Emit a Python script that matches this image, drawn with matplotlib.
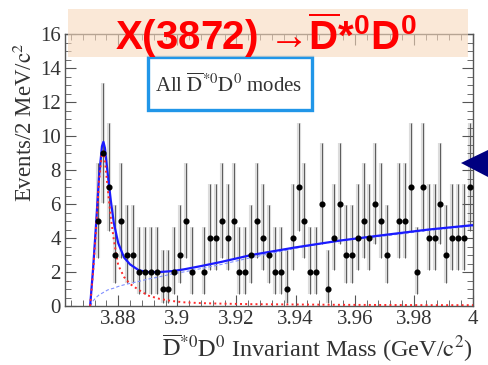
import numpy as np
import matplotlib
matplotlib.use("Agg")
import matplotlib.pyplot as plt
from matplotlib.patches import Rectangle, Polygon
from matplotlib.ticker import MultipleLocator

plt.rcParams['font.family'] = ['Liberation Serif', 'DejaVu Serif']
plt.rcParams['mathtext.fontset'] = 'custom'
plt.rcParams['mathtext.rm'] = 'Liberation Sans:bold'
plt.rcParams['mathtext.it'] = 'Liberation Sans:bold'
plt.rcParams['mathtext.bf'] = 'Liberation Sans:bold'

# 2 MeV bins, centres from 3.863 to 3.999 GeV
bin_centers = np.arange(69) * 0.002 + 3.863
counts = [0, 0, 0, 0, 0, 5, 9, 7, 3, 5, 3, 3, 2, 2, 2, 2, 1, 1, 2, 3,
          5, 2, 0, 2, 4, 4, 5, 4, 5, 2, 2, 3, 5, 4, 3, 2, 2, 1, 4, 7,
          5, 2, 2, 6, 1, 4, 6, 3, 3, 4, 5, 4, 6, 5, 3, 0, 5, 5, 7, 2,
          7, 4, 4, 6, 3, 4, 4, 4, 7]

# poisson 68% interval (low, high) for each count
poisson_band = {1: (0.17, 3.32), 2: (0.71, 4.66), 3: (1.37, 5.94),
                4: (2.09, 7.18), 5: (2.85, 8.40), 6: (3.63, 9.60),
                7: (4.42, 10.78), 9: (6.06, 13.12)}

# fit curves
fit_x = [3.8705, 3.8715, 3.8725, 3.8735, 3.8745, 3.875, 3.8755, 3.8765,
         3.8775, 3.8785, 3.880, 3.882, 3.884, 3.887, 3.890, 3.894, 3.898,
         3.902, 3.908, 3.915, 3.925, 3.94, 3.955, 3.97, 3.985, 4.0]
fit_total = [0, 2.2, 4.8, 7.6, 9.4, 9.66, 9.3, 7.7, 6.2, 4.9, 3.7, 2.85,
             2.45, 2.1, 2.0, 2.0, 2.05, 2.15, 2.35, 2.6, 3.0, 3.45, 3.85,
             4.18, 4.5, 4.76]
fit_signal = [0, 2.0, 4.5, 7.3, 9.0, 9.1, 8.6, 6.8, 5.2, 3.9, 2.4, 1.7,
              1.3, 0.94, 0.62, 0.42, 0.3, 0.22, 0.17, 0.14, 0.11, 0.09,
              0.07, 0.06, 0.05, 0.05]
fit_bkg = [0, 0.3, 0.5, 0.65, 0.75, 0.8, 0.85, 0.95, 1.0, 1.05, 1.15, 1.25,
           1.33, 1.45, 1.58, 1.72, 1.88, 2.0, 2.2, 2.45, 2.85, 3.4, 3.85,
           4.12, 4.45, 4.71]

fig = plt.figure(figsize=(4.88, 3.65), dpi=100)
ax = fig.add_axes([0.1332, 0.1616, 0.836, 0.745])

cnt = np.array(counts)
keep = cnt > 0
xs = bin_centers[keep]
ys = cnt[keep]
lo = np.array([ys[i] - poisson_band[n][0] for i, n in enumerate(ys)])
hi = np.array([poisson_band[n][1] - ys[i] for i, n in enumerate(ys)])

ax.errorbar(xs, ys, yerr=[lo, hi], fmt='none', ecolor='#dcdcdc', elinewidth=3.0, zorder=1)
ax.errorbar(xs, ys, yerr=[lo, hi], fmt='none', ecolor='#5a5a5a', elinewidth=0.7, zorder=2)
ax.plot(xs, ys, 'o', color='black', ms=3.4, zorder=5)

ax.plot(fit_x, fit_bkg, '--', color='#8090ff', lw=0.8, dashes=(3, 2), zorder=3)
ax.plot(fit_x, fit_signal, ':', color='#ff2a2a', lw=1.4, zorder=4)
ax.plot(fit_x, fit_total, '-', color='#1a1aff', lw=1.6, zorder=3)

ax.set_xlim(3.862, 4.0)
ax.set_ylim(0, 16)
ax.xaxis.set_major_locator(MultipleLocator(0.02))
ax.xaxis.set_minor_locator(MultipleLocator(0.004))
ax.yaxis.set_major_locator(MultipleLocator(2))
ax.yaxis.set_minor_locator(MultipleLocator(0.5))
ax.set_xticks([3.88, 3.9, 3.92, 3.94, 3.96, 3.98, 4.0])
ax.set_xticklabels(['3.88', '3.9', '3.92', '3.94', '3.96', '3.98', '4'])
ax.set_yticks(range(0, 17, 2))
ax.set_yticklabels([str(v) for v in range(0, 17, 2)])
ax.tick_params(which='both', direction='in', top=True, right=True,
               color='#555555', labelsize=15, labelcolor='#333333')
ax.tick_params(which='major', length=8, width=0.8, pad=3)
ax.tick_params(which='minor', length=4, width=0.6)
for s in ax.spines.values():
    s.set_color('#555555')
    s.set_linewidth(1.0)

ax.set_ylabel(r'Events/2 MeV/$\mathrm{c}^2$', fontsize=16.5, color='#333333',
              math_fontfamily='stix')
ax.yaxis.set_label_coords(-0.068, 0.675)
ax.set_xlabel(r'$\overline{\mathrm{D}}^{*0}\mathrm{D}^{0}$ Invariant Mass (GeV/$\mathrm{c}^2$)',
              fontsize=17.5, color='#333333', loc='right', labelpad=2,
              math_fontfamily='stix')

# box naming the decay modes
fig.patches.append(Rectangle((148 / 488, 1 - 110 / 365), 164 / 488, 53 / 365,
                             transform=fig.transFigure, facecolor='white',
                             edgecolor='#2196e8', lw=2.4, zorder=10))
fig.text(229 / 488, 1 - 85 / 365, r'All $\overline{\mathrm{D}}^{*0}\mathrm{D}^{0}$ modes',
         ha='center', va='center', fontsize=15, color='#333333',
         math_fontfamily='stix', zorder=11)

# banner with the decay
fig.patches.append(Rectangle((68 / 488, 1 - 57 / 365), 400 / 488, 48 / 365,
                             transform=fig.transFigure, facecolor='#f8d9bd',
                             edgecolor='none', alpha=0.6, zorder=10))
fig.text(266 / 488, 1 - 35 / 365,
         'X(3872) \u2192' + r'$\overline{\mathrm{D}}$*$^{0}$D$^{0}$',
         ha='center', va='center', fontsize=29, color='#ff0000',
         family=['Liberation Sans', 'DejaVu Sans'], fontweight='bold', zorder=11)

# pointer on the right edge
fig.patches.append(Polygon([(461 / 488, 1 - 163 / 365), (488 / 488, 1 - 150 / 365),
                            (488 / 488, 1 - 177 / 365)], closed=True,
                           transform=fig.transFigure, facecolor='#000080',
                           edgecolor='none', zorder=10))

fig.savefig('out.png', dpi=100)
